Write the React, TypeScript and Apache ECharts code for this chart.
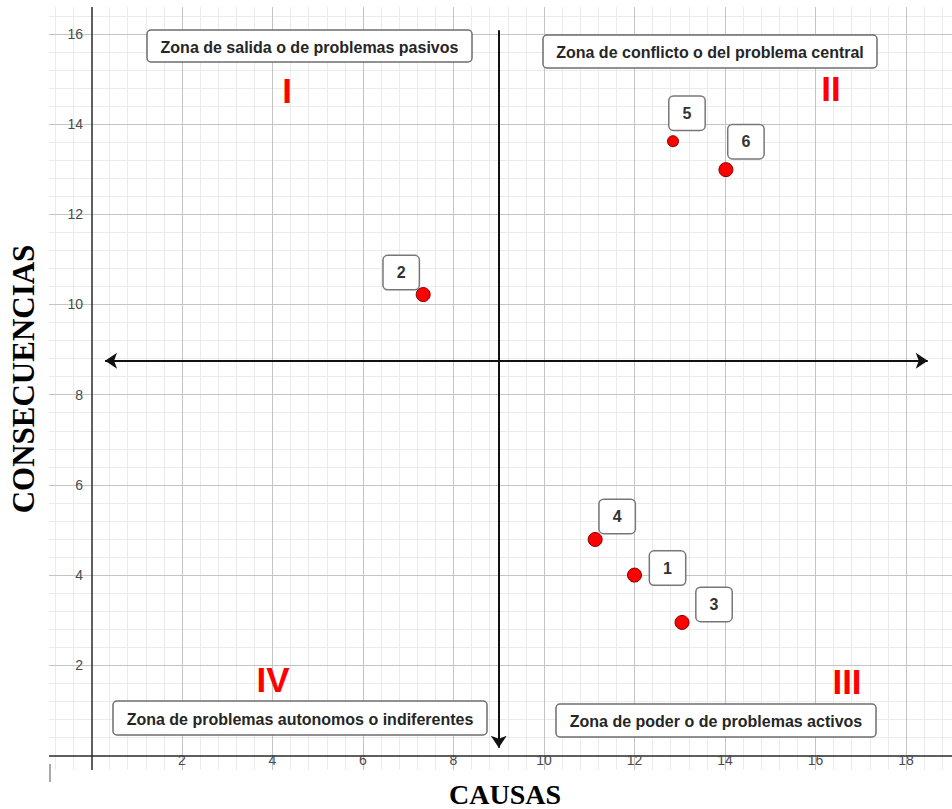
import React, { useEffect, useRef } from "react";
import * as echarts from "echarts";

// ---- data ----
const problemIds = ["1", "2", "3", "4", "5", "6"];
const causas = [12.0, 7.33, 13.05, 11.13, 12.85, 14.02];
const consecuencias = [4.0, 10.22, 2.95, 4.79, 13.62, 12.99];
const xTickLabels = [2, 4, 6, 8, 10, 12, 14, 16, 18];
const yTickLabels = [2, 4, 6, 8, 10, 12, 14, 16];
const zoneTitles = [
  "Zona de salida o de problemas pasivos",
  "Zona de conflicto o del problema central",
  "Zona de problemas autonomos o indiferentes",
  "Zona de poder o de problemas activos",
];
const quadrantNumerals = ["I", "II", "IV", "III"];
const xTitle = "CAUSAS";
const yTitle = "CONSECUENCIAS";
const dividerX = 9;
const dividerY = 8.75;

// ---- layout / style (not data) ----
const X_MIN = -0.939;
const X_MAX = 19.016;
const Y_MIN = -0.3215;
const Y_MAX = 16.596;
const labelOffsets = [
  [33, -7],
  [-22, -22],
  [32, -18],
  [22, -23],
  [14, -28],
  [20, -28],
];
const smallPoint: Record<string, number> = { "5": 11 };
const zoneBoxes = [
  { x: 147, y: 30, w: 325, h: 32 },
  { x: 543, y: 35, w: 334, h: 33 },
  { x: 113, y: 701, w: 374, h: 34 },
  { x: 556, y: 704, w: 320, h: 33 },
];
const numeralPos = [
  [287, 90],
  [831, 88],
  [273, 679],
  [847, 681],
];

function gridValues(lo: number, hi: number, step: number, skipEvery: number) {
  const out: number[] = [];
  const kLo = Math.ceil(lo / step - 1e-9);
  const kHi = Math.floor(hi / step + 1e-9);
  for (let k = kLo; k <= kHi; k++) {
    if (k === 0) continue;
    if (skipEvery > 0 && k % skipEvery === 0) continue;
    out.push(Math.round(k * step * 100) / 100);
  }
  return out;
}

export default function App() {
  const ref = useRef<HTMLDivElement>(null);
  useEffect(() => {
    const chart = echarts.init(ref.current!, null, { renderer: "svg" });
    const minorX = gridValues(X_MIN, X_MAX, 0.4, 5);
    const minorY = gridValues(Y_MIN, Y_MAX, 0.4, 5);
    const majorX = gridValues(X_MIN, X_MAX, 2, 0);
    const majorY = gridValues(Y_MIN, Y_MAX, 2, 0);

    const graphics: any[] = [];
    zoneTitles.forEach((t, i) => {
      const b = zoneBoxes[i];
      graphics.push({
        type: "rect",
        z: 20,
        shape: { x: b.x, y: b.y, width: b.w, height: b.h, r: 4 },
        style: { fill: "#ffffff", stroke: "#6e6e6e", lineWidth: 1.5 },
      });
      graphics.push({
        type: "text",
        z: 21,
        x: b.x + b.w / 2,
        y: b.y + b.h / 2 + 1,
        style: {
          text: t,
          font: 'bold 16px "Liberation Sans", Arial, sans-serif',
          fill: "#262626",
          align: "center",
          verticalAlign: "middle",
        },
      });
    });
    quadrantNumerals.forEach((n, i) => {
      graphics.push({
        type: "text",
        z: 21,
        x: numeralPos[i][0],
        y: numeralPos[i][1],
        style: {
          text: n,
          font: 'bold 35px "Liberation Sans", Arial, sans-serif',
          fill: "#ff0000",
          align: "center",
          verticalAlign: "middle",
        },
      });
    });
    graphics.push({
      type: "text",
      z: 21,
      x: 505,
      y: 794,
      style: {
        text: xTitle,
        font: 'bold 28px "Liberation Serif", "Times New Roman", serif',
        fill: "#000",
        align: "center",
        verticalAlign: "middle",
      },
    });
    graphics.push({
      type: "text",
      z: 21,
      x: 23,
      y: 379,
      rotation: Math.PI / 2,
      style: {
        text: yTitle,
        font: 'bold 31px "Liberation Serif", "Times New Roman", serif',
        fill: "#000",
        align: "center",
        verticalAlign: "middle",
      },
    });
    graphics.push({
      type: "line",
      z: 21,
      shape: { x1: 50, y1: 764, x2: 50, y2: 782 },
      style: { stroke: "#555", lineWidth: 1 },
    });

    const lineSeries = (
      name: string,
      xs: number[],
      ys: number[],
      color: string,
      width: number,
      z: number
    ) => ({
      name,
      type: "scatter",
      data: [],
      z,
      silent: true,
      markLine: {
        silent: true,
        symbol: ["none", "none"],
        label: { show: false },
        lineStyle: { type: "solid", color, width },
        emphasis: { disabled: true },
        data: [...xs.map((v) => ({ xAxis: v })), ...ys.map((v) => ({ yAxis: v }))],
      },
    });

    const hiddenLine = { show: false };
    chart.setOption({
      animation: false,
      backgroundColor: "#ffffff",
      grid: { left: 49, right: 0, top: 7, bottom: 39, containLabel: false },
      xAxis: {
        type: "value",
        min: X_MIN,
        max: X_MAX,
        z: 8,
        splitLine: hiddenLine,
        minorSplitLine: hiddenLine,
        axisTick: hiddenLine,
        minorTick: hiddenLine,
        axisLine: { show: false, onZero: false },
        axisLabel: {
          customValues: xTickLabels,
          margin: -17,
          color: "#4a4a4a",
          fontSize: 14,
          fontFamily: "Liberation Sans",
        },
      },
      yAxis: {
        type: "value",
        min: Y_MIN,
        max: Y_MAX,
        z: 8,
        splitLine: hiddenLine,
        minorSplitLine: hiddenLine,
        axisTick: hiddenLine,
        minorTick: hiddenLine,
        axisLine: { show: false, onZero: false },
        axisLabel: {
          customValues: yTickLabels,
          margin: -34,
          color: "#4a4a4a",
          fontSize: 14,
          fontFamily: "Liberation Sans",
        },
      },
      graphic: { elements: graphics },
      series: [
        lineSeries("minor", minorX, minorY, "#ebebeb", 1, 1),
        lineSeries("major", majorX, majorY, "#c4c4c4", 1, 2),
        lineSeries("ejes", [0], [0], "#2a2a2a", 1.5, 3),
        {
          name: "divisores",
          type: "scatter",
          data: [],
          z: 4,
          silent: true,
          markLine: {
            silent: true,
            symbolSize: 12,
            label: { show: false },
            emphasis: { disabled: true },
            lineStyle: { type: "solid", color: "#111", width: 2 },
            data: [
              [
                { coord: [0.3, dividerY], symbol: "arrow" },
                { coord: [18.48, dividerY], symbol: "arrow" },
              ],
              [
                { coord: [dividerX, 16.08], symbol: "none" },
                { coord: [dividerX, 0.17], symbol: "arrow" },
              ],
            ],
          },
        },
        {
          name: "problemas",
          type: "scatter",
          z: 10,
          data: problemIds.map((id, i) => ({
            name: id,
            value: [causas[i], consecuencias[i]],
            symbolSize: smallPoint[id] ?? 14,
            label: { offset: labelOffsets[i] },
          })),
          itemStyle: { color: "#ff0000", borderColor: "#7a0000", borderWidth: 1, opacity: 1 },
          label: {
            show: true,
            position: "inside",
            formatter: "{b}",
            fontWeight: "bold",
            fontSize: 16,
            fontFamily: "Liberation Sans",
            color: "#333",
            backgroundColor: "#ffffff",
            borderColor: "#777",
            borderWidth: 1.5,
            borderRadius: 4,
            padding: [8, 13],
            lineHeight: 17,
          },
        },
      ],
    });
    return () => chart.dispose();
  }, []);
  return (
    <div
      ref={ref}
      style={{ position: "absolute", left: 0, top: 0, width: 952, height: 809, background: "#fff" }}
    />
  );
}
